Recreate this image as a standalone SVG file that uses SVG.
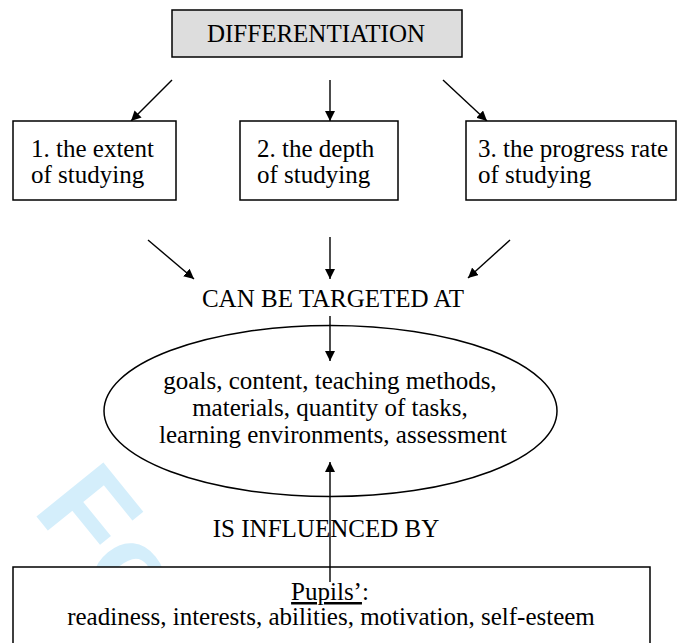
<svg xmlns="http://www.w3.org/2000/svg" width="683" height="643" viewBox="0 0 683 643">
<defs>
<marker id="ah" viewBox="0 0 10 10" refX="10" refY="5" markerWidth="10" markerHeight="10" markerUnits="userSpaceOnUse" orient="auto">
<path d="M0,0 L10,5 L0,10 Z" fill="#000"/>
</marker>
<style>
.t{font-family:"Liberation Serif","Times New Roman",serif;font-size:25px;fill:#000}
.m{text-anchor:middle}
.box{fill:#fff;stroke:#000;stroke-width:1.5}
.c{stroke:#000;stroke-width:1.4;fill:none;marker-end:url(#ah)}
</style>
</defs>
<rect width="683" height="643" fill="#fff"/>
<text id="watermark" x="0" y="0" transform="translate(31.3,510) rotate(51)" font-family="Liberation Sans, Arial, sans-serif" font-weight="bold" font-size="125" fill="#d4eefb">Fo</text>
<g id="connectors">
<line class="c" x1="172" y1="80" x2="131" y2="121"/>
<line class="c" x1="330" y1="80" x2="330" y2="121"/>
<line class="c" x1="443" y1="80" x2="487" y2="121"/>
<line class="c" x1="148" y1="240" x2="194" y2="279"/>
<line class="c" x1="330" y1="237" x2="330" y2="279"/>
<line class="c" x1="510" y1="240" x2="468" y2="278"/>
<line class="c" x1="330" y1="316" x2="330" y2="361"/>
</g>
<g id="differentiation">
<rect x="172" y="10" width="290" height="47" fill="#dddddd" stroke="#000" stroke-width="1.5"/>
<text class="t m" x="316" y="42">DIFFERENTIATION</text>
</g>
<g id="extent">
<rect class="box" x="13" y="121" width="163" height="79"/>
<text class="t" x="31" y="157">1. the extent</text>
<text class="t" x="31" y="183">of studying</text>
</g>
<g id="depth">
<rect class="box" x="240" y="121" width="158" height="79"/>
<text class="t" x="257" y="157">2. the depth</text>
<text class="t" x="257" y="183">of studying</text>
</g>
<g id="progress">
<rect class="box" x="466" y="121" width="210" height="79"/>
<text class="t" x="478" y="157">3. the progress rate</text>
<text class="t" x="478" y="183">of studying</text>
</g>
<g id="targeted">
<text class="t m" x="333" y="307">CAN BE TARGETED AT</text>
</g>
<g id="targets">
<ellipse cx="330.5" cy="411" rx="226.5" ry="85.5" fill="none" stroke="#000" stroke-width="1.5"/>
<text class="t m" x="330" y="389">goals, content, teaching methods,</text>
<text class="t m" x="330" y="416">materials, quantity of tasks,</text>
<text class="t m" x="333" y="443">learning environments, assessment</text>
</g>
<g id="influenced">
<text class="t m" x="326" y="537">IS INFLUENCED BY</text>
</g>
<g id="pupils">
<path d="M13,643 V567 H650 V643" fill="#fff" stroke="#000" stroke-width="1.5"/>
<text class="t m" x="330" y="600"><tspan text-decoration="underline">Pupils’</tspan>:</text>
<text class="t m" x="331" y="625">readiness, interests, abilities, motivation, self-esteem</text>
</g>
<g id="connectors-up">
<line class="c" x1="330" y1="582" x2="330" y2="462"/>
</g>
</svg>
